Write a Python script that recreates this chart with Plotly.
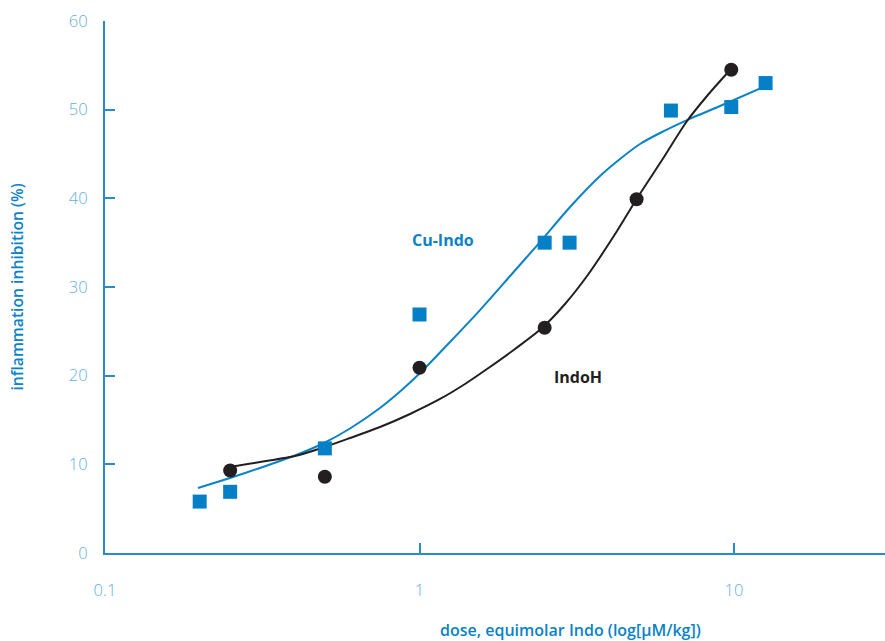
import plotly.graph_objects as go

# Measured points
cu_dose = [0.2, 0.25, 0.5, 1.0, 2.5, 3.0, 6.3, 9.8, 12.6]
cu_inhib = [5.8, 6.9, 11.8, 26.9, 35.0, 35.0, 49.9, 50.3, 53.0]
indo_dose = [0.25, 0.5, 1.0, 2.5, 4.9, 9.8]
indo_inhib = [9.3, 8.6, 20.9, 25.4, 39.9, 54.5]

# Fitted dose-response curves
cu_fit_dose = [0.1975, 0.2497, 0.311, 0.4018, 0.4934, 0.6012, 0.7488, 0.867, 1.004,
               1.25, 1.557, 1.941, 2.416, 3.01, 3.749, 4.34, 5.024, 5.817, 7.09, 9.5, 12.37]
cu_fit_inhib = [7.33, 8.46, 9.59, 11.00, 12.35, 14.04, 16.35, 18.21, 20.30,
                23.80, 27.40, 31.24, 35.07, 39.02, 42.52, 44.44, 46.13, 47.37, 48.83, 50.75, 52.55]
indo_fit_dose = [0.2478, 0.311, 0.4078, 0.4934, 0.6012, 0.7488, 0.9328, 1.162, 1.395, 1.639,
                 2.012, 2.452, 2.901, 3.409, 4.246, 4.879, 5.904, 7.09, 8.205, 9.712]
indo_fit_inhib = [9.70, 10.26, 11.00, 11.90, 12.97, 14.21, 15.68, 17.37, 19.06, 20.75,
                  23.01, 25.37, 28.08, 31.24, 36.31, 39.81, 44.32, 48.72, 51.54, 54.47]

x_ticks = [0.1, 1, 10]
x_tick_text = ["0.1", "1", "10"]
y_ticks = [0, 10, 20, 30, 40, 50, 60]

BLUE = "#0a82c6"
AXIS = "#2a8bcb"
TICKTXT = "#62b0e0"
DARK = "#231f20"
FONT = "Open Sans"

fig = go.Figure()

fig.add_trace(go.Scatter(x=cu_fit_dose, y=cu_fit_inhib, mode="lines",
                         line=dict(color=BLUE, width=2, shape="spline", smoothing=0.7),
                         showlegend=False, hoverinfo="skip"))
fig.add_trace(go.Scatter(x=indo_fit_dose, y=indo_fit_inhib, mode="lines",
                         line=dict(color=DARK, width=2, shape="spline", smoothing=0.8),
                         showlegend=False, hoverinfo="skip"))
fig.add_trace(go.Scatter(x=cu_dose, y=cu_inhib, mode="markers", name="Cu-Indo",
                         marker=dict(symbol="square", size=14, color="#0580c6"),
                         showlegend=False))
fig.add_trace(go.Scatter(x=indo_dose, y=indo_inhib, mode="markers", name="IndoH",
                         marker=dict(symbol="circle", size=14, color=DARK),
                         showlegend=False))

fig.add_annotation(x=0.0747, y=35.3, xref="x", yref="y", text="<b>Cu-Indo</b>",
                   showarrow=False, font=dict(family=FONT, size=16, color=BLUE))
fig.add_annotation(x=0.504, y=19.85, xref="x", yref="y", text="<b>IndoH</b>",
                   showarrow=False, font=dict(family=FONT, size=16, color=DARK))
fig.add_annotation(x=0.597, y=-0.145, xref="paper", yref="paper", yanchor="middle",
                   text="dose, equimolar Indo (log[μM/kg])", showarrow=False,
                   font=dict(family=FONT, size=16, color=BLUE, weight=600))

fig.update_layout(
    width=885, height=641,
    margin=dict(l=105, r=0, t=21, b=88),
    plot_bgcolor="white", paper_bgcolor="white",
    font=dict(family=FONT),
    xaxis=dict(type="log", range=[-1, 1.48], tickvals=x_ticks, ticktext=x_tick_text,
               showgrid=False, zeroline=False, showline=True, linecolor=AXIS, linewidth=2,
               ticks="inside", ticklen=10, tickwidth=2, tickcolor=AXIS,
               tickfont=dict(family=FONT, size=16.5, color=TICKTXT, weight=300),
               ticklabelstandoff=21),
    yaxis=dict(range=[0, 60], tickvals=y_ticks,
               showgrid=False, zeroline=False, showline=True, linecolor=AXIS, linewidth=2,
               ticks="inside", ticklen=10, tickwidth=2, tickcolor=AXIS,
               tickfont=dict(family=FONT, size=16.5, color=TICKTXT, weight=300),
               ticklabelstandoff=12,
               title=dict(text="inflammation inhibition (%)", standoff=41,
                          font=dict(family=FONT, size=15.7, color=BLUE, weight=600))),
)

fig.write_html("out.html")
